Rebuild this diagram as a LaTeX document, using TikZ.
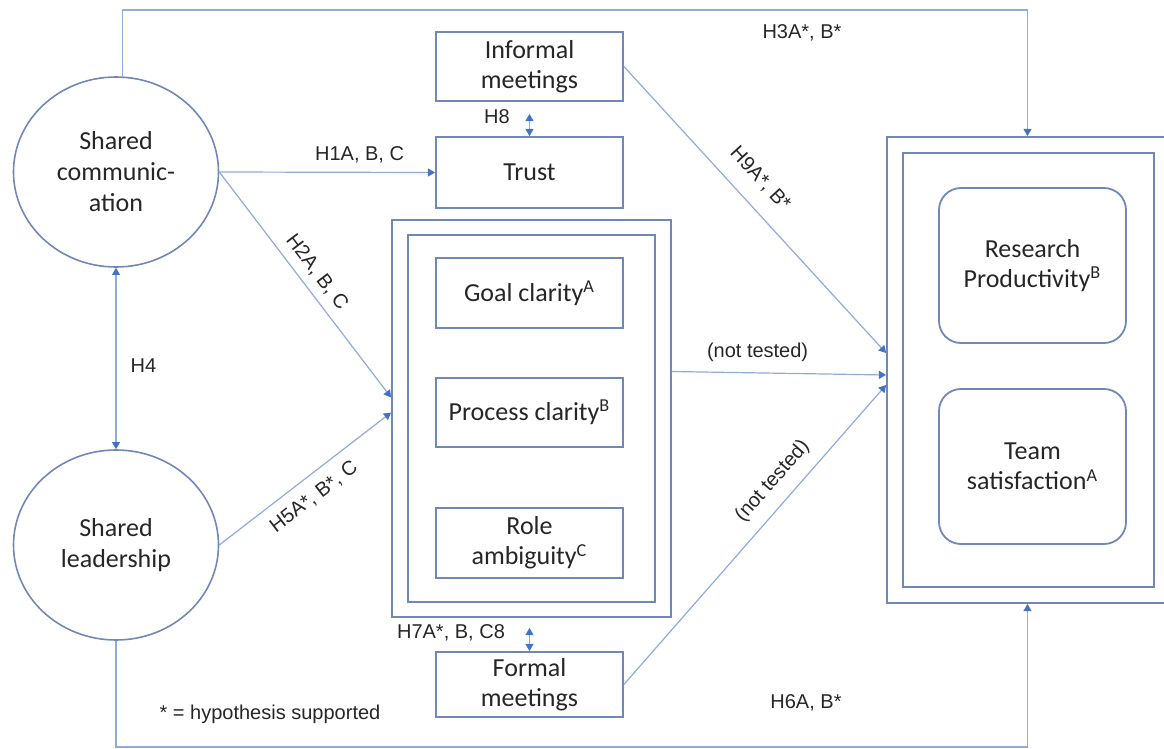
\documentclass[tikz,border=0pt]{standalone}
\usepackage{fontspec}
\setmainfont{Carlito}
\newfontfamily\lblfont{Liberation Sans}
\usetikzlibrary{arrows.meta,shapes.geometric,calc}
\definecolor{boxblue}{RGB}{112,136,184}
\definecolor{lineblue}{RGB}{143,170,220}
\definecolor{tipblue}{RGB}{68,114,196}
\tikzset{
  tip/.tip={Triangle[length=3.6pt,width=4pt,color=tipblue]},
  box/.style={draw=boxblue,line width=0.9pt,rectangle,inner sep=0pt,minimum width=93.5pt,align=center,
    text=black!85,font=\fontsize{13}{15}\selectfont},
  outcome/.style={box,rounded corners=11pt},
  frame/.style={draw=boxblue,line width=0.9pt,rectangle,inner sep=0pt},
  construct/.style={draw=boxblue,line width=0.8pt,ellipse,inner sep=0pt,minimum width=102.5pt,minimum height=95pt,
    align=center,text=black!85,font=\fontsize{13}{15.5}\selectfont},
  conn/.style={draw=lineblue,line width=0.6pt,-tip},
  twoway/.style={draw=lineblue,line width=0.6pt,tip-tip},
  lbl/.style={font=\lblfont\fontsize{10}{12}\selectfont,text=black!85,inner sep=2pt}
}
\begin{document}
\begin{tikzpicture}[x=0.5pt,y=-0.5pt]
				\useasboundingbox (0,0) rectangle (1164,749);
				\node[construct] (comm) at (116,172) {Shared\\communic-\\ation};
				\node[construct] (lead) at (116,545) {Shared\\leadership};
				\node[box,minimum height=34.5pt] (informal) at (529.5,66.5) {Informal\\meetings};
				\node[box,minimum height=35.5pt] (trust) at (529.5,172.5) {Trust};
				\node[frame,minimum width=139.5pt,minimum height=198.5pt] (midout) at (531.5,418.5) {};
				\node[frame,minimum width=123.5pt,minimum height=183.5pt] (midin) at (531.5,418.5) {};
				\node[box,minimum height=35pt] (goal) at (529.5,293) {Goal clarity\textsuperscript{A}};
				\node[box,minimum height=34.5pt] (process) at (529.5,412.5) {Process clarity\textsuperscript{B}};
				\node[box,minimum height=35pt] (role) at (529.5,543) {Role\\ambiguity\textsuperscript{C}};
				\node[box,minimum height=32.5pt] (formal) at (529.5,684.5) {Formal\\meetings};
				\node[frame,minimum width=140.5pt,minimum height=233pt] (rout) at (1027.5,370) {};
				\node[frame,minimum width=125.5pt,minimum height=217pt] (rin) at (1028.5,370) {};
				\node[outcome,minimum height=77.5pt] (research) at (1032.5,265.5) {Research\\Productivity\textsuperscript{B}};
				\node[outcome,minimum height=77.5pt] (team) at (1032.5,466.5) {Team\\satisfaction\textsuperscript{A}};
				\coordinate (top) at (0,10);
				\coordinate (bot) at (0,747);
				\coordinate (h2end) at ($(midout.west)+(0,-21)$);
				\coordinate (h5end) at ($(midout.west)+(0,-6)$);
				\coordinate (ntstart) at ($(midout.east)+(0,-47)$);
				\draw[conn] (comm.86) -- (comm.86 |- top) -| (rout.north);
				\draw[conn] (lead.south) -- (lead.south |- bot) -| (rout.south);
				\draw[conn] (comm.east) -- node[lbl,pos=0.65,above=2.5pt] (lh1) {H1A, B, C} (trust.west);
				\draw[conn] (comm.east) -- node[lbl,sloped,pos=0.49,above=2pt] (lh2) {H2A, B, C} (h2end);
				\draw[conn] (lead.east) -- node[lbl,sloped,pos=0.48,below=3.5pt] (lh5) {H5A*, B*, C} (h5end);
				\draw[twoway] (comm.south) -- node[lbl,pos=0.54,right=5pt] (lh4) {H4} (lead.north);
				\draw[twoway,shorten <=6pt] (informal.south) -- (trust.north);
				\draw[twoway,shorten <=5pt] (midout.south -| formal.north) -- (formal.north);
				\draw[conn] (informal.east) -- node[lbl,sloped,pos=0.45,above=6pt] (lh9) {H9A*, B*} ($(rout.west)+(0,-17)$);
				\draw[conn] (ntstart) -- node[lbl,pos=0.4,above=3.5pt] (lnt1) {(not tested)} ($(rout.west)+(0,5)$);
				\draw[conn] (formal.east) -- node[lbl,sloped,pos=0.63,above=4pt] (lnt2) {(not tested)} ($(rout.west)+(0,15)$);
				\node[lbl] (lh3) at (802,33) {H3A*, B*};
				\node[lbl] (lh8) at (497,117) {H8};
				\node[lbl] (lh7) at (451,633) {H7A*, B, C8};
				\node[lbl] (lh6) at (806,703) {H6A, B*};
				\node[lbl] (note) at (270,714) {* = hypothesis supported};
			\end{tikzpicture}
\end{document}
